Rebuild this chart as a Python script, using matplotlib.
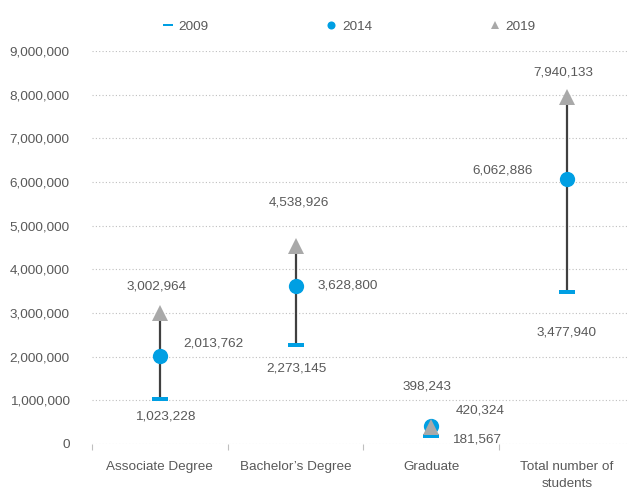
import matplotlib
matplotlib.use("Agg")
import matplotlib.pyplot as plt
from matplotlib.lines import Line2D
from matplotlib.path import Path
from matplotlib.ticker import FuncFormatter, MultipleLocator, FixedLocator

# Enrollment by degree level
categories = ["Associate Degree", "Bachelor\u2019s Degree", "Graduate", "Total number of\nstudents"]
years = ["2009", "2014", "2019"]
students_2009 = [1023228, 2273145, 181567, 3477940]
students_2014 = [2013762, 3628800, 420324, 6062886]
students_2019 = [3002964, 4538926, 398243, 7940133]

# Label placement (pixel offsets from each marker, dy positive = up)
label_offsets = {
    "2009": [(5, -17), (1, -24), (45, -3), (0, -40)],
    "2014": [(54, 13), (52, 0), (49, 15), (-64, 9)],
    "2019": [(-3, 26), (3, 43), (-4, 40), (-4, 25)],
}

BLUE = "#009FE3"
GREY = "#A9A9A9"
LINE = "#404040"
TEXT = "#595959"
GRID = "#BFBFBF"
FS = 9.7

plt.rcParams["font.family"] = ["Liberation Sans", "DejaVu Sans"]

dash = Path([(-1, -0.24), (1, -0.24), (1, 0.24), (-1, 0.24), (-1, -0.24)],
            [Path.MOVETO, Path.LINETO, Path.LINETO, Path.LINETO, Path.CLOSEPOLY])

fig = plt.figure(figsize=(6.28, 4.93), dpi=100)
ax = fig.add_axes([92 / 628, 49 / 493, 536 / 628, 393 / 493])

x = list(range(len(categories)))
lows = [min(a, b, c) for a, b, c in zip(students_2009, students_2014, students_2019)]
highs = [max(a, b, c) for a, b, c in zip(students_2009, students_2014, students_2019)]

ax.vlines(x, lows, highs, color=LINE, lw=1.6, zorder=2)
ax.plot(x, students_2009, ls="none", marker=dash, ms=12.2, mew=0, color=BLUE, zorder=3)
ax.plot(x, students_2014, ls="none", marker="o", ms=11, mew=0, color=BLUE, zorder=4)
ax.plot(x, students_2019, ls="none", marker="^", ms=11, mew=0, color=GREY, zorder=5)

for yr, vals in zip(years, [students_2009, students_2014, students_2019]):
    for xi, v, (dx, dy) in zip(x, vals, label_offsets[yr]):
        ax.annotate(f"{v:,}", (xi, v), xytext=(dx, dy), textcoords="offset pixels",
                    ha="center", va="center", fontsize=FS, color=TEXT, zorder=6)

ax.set_xlim(-0.5, 3.45)
ax.set_ylim(0, 9_000_000)
ax.yaxis.set_major_locator(MultipleLocator(1_000_000))
ax.yaxis.set_major_formatter(FuncFormatter(lambda v, _: f"{int(v):,}"))
ax.set_xticks(x)
ax.set_xticklabels(categories)
ax.xaxis.set_minor_locator(FixedLocator([-0.5, 0.5, 1.5, 2.5, 3.5]))

ax.tick_params(axis="y", length=0, pad=16, labelsize=FS, labelcolor=TEXT)
ax.tick_params(axis="x", which="major", length=0, pad=12.5, labelsize=FS, labelcolor=TEXT)
ax.tick_params(axis="x", which="minor", length=4, width=0.8, color=GRID)
for lbl in ax.get_xticklabels():
    lbl.set_linespacing(1.5)

ax.yaxis.grid(True, color=GRID, lw=0.8, ls=(0, (1, 2)))
ax.set_axisbelow(True)
for s in ax.spines.values():
    s.set_visible(False)

handles = [
    Line2D([], [], ls="none", marker=dash, ms=6.5, mew=0, color=BLUE),
    Line2D([], [], ls="none", marker="o", ms=5.8, mew=0, color=BLUE),
    Line2D([], [], ls="none", marker="^", ms=5.8, mew=0, color=GREY),
]
leg = fig.legend(handles, years, loc="center", bbox_to_anchor=(0.556, 0.946), ncol=3,
                 frameon=False, fontsize=FS, handlelength=0.8, handletextpad=0.4,
                 columnspacing=8.7, borderpad=0)
for t in leg.get_texts():
    t.set_color(TEXT)

fig.savefig("out.png", dpi=100)
